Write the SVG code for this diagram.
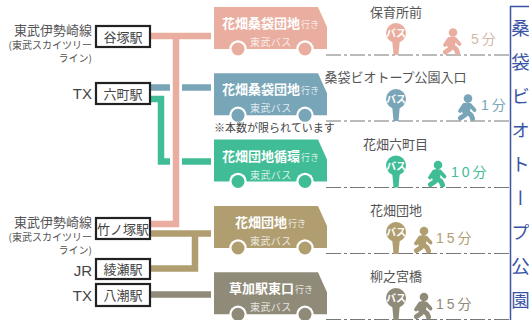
<svg xmlns="http://www.w3.org/2000/svg" width="529" height="320" viewBox="0 0 529 320">
<style>
text{font-family:"Noto Sans CJK JP","Liberation Sans",sans-serif}
.c1{color:#e9aea0}.c2{color:#78a5b8}.c3{color:#40bd96}.c4{color:#b09e70}.c5{color:#8f8b78}
.line{fill:none;stroke-width:6.5}
.lbl{font-size:13px;fill:#555;text-anchor:end}
.lat{font-family:"Liberation Sans",sans-serif;font-size:15px;fill:#444;text-anchor:end}
.sub{font-size:10px;fill:#555;text-anchor:end}
.st{fill:#fff;stroke:#222;stroke-width:2.2}
.stt{font-size:13px;fill:#444;text-anchor:middle}
.bt{font-size:13px;font-weight:700;fill:#fff}
.bg{font-size:9px;fill:#fff;fill-opacity:.8}
.bc{font-size:10px;fill:#fff;fill-opacity:.8;letter-spacing:.4px}
.sn{font-size:13px;fill:#555;text-anchor:middle}
.pb{font-size:10px;font-weight:700;fill:#fff;text-anchor:middle}
.min{font-family:"Liberation Sans","Noto Sans CJK JP",sans-serif;font-size:14px;letter-spacing:3px}
.dd{stroke:#777;stroke-width:1;stroke-dasharray:15 3 3 3;fill:none}
</style>
<defs>
<g id="bus">
<path d="M214 7H318L327 27V49H214Z" fill="currentColor"/>
<circle cx="238" cy="49" r="8.700" fill="#fff"/><circle cx="238" cy="49" r="6.500" fill="currentColor"/>
<circle cx="305" cy="49" r="8.700" fill="#fff"/><circle cx="305" cy="49" r="6.500" fill="currentColor"/>
</g>
<g id="pole" fill="currentColor">
<circle cx="0" cy="0" r="10"/><path d="M-4 5H4L2.500 22H-2.500Z"/>
</g>
<g id="walker" fill="none" stroke="currentColor" stroke-linecap="round" stroke-linejoin="round">
<circle cx="1" cy="4.500" r="4.300" fill="currentColor" stroke="none"/>
<path d="M0 12.500L-1 16.500" stroke-width="8"/>
<path d="M3 11L7.500 16M-3 11L-7 17" stroke-width="3.800"/>
<path d="M-1 18L-2 21L-6.500 24M0 18L4 21L5.500 24.500" stroke-width="5"/>
</g>
</defs>
<g id="connectors">
<path class="line c2" stroke="currentColor" d="M151 87.500H211"/>
<path class="line c3" stroke="currentColor" d="M151 99H161V161.500H211"/>
<path d="M176 40V224" stroke="#fff" stroke-width="12" fill="none"/>
<path class="line c1" stroke="currentColor" d="M151 36H211M176 36V224H151"/>
<path class="line c4" stroke="currentColor" d="M151 233.500H211M195 233.500V268.500H151"/>
<path class="line c5" stroke="currentColor" d="M151 294.500H211"/>
<path class="dd" d="M326 55H509M326 121H509M326 187.500H509M326 253.500H509M326 319.500H509"/>
</g>
<g id="line-labels">
<text class="lbl" x="92" y="35">東武伊勢崎線</text>
<text class="sub" x="92" y="49">(東武スカイツリー</text>
<text class="sub" x="92" y="62">ライン)</text>
<text class="lat" x="92" y="99">TX</text>
<text class="lbl" x="92" y="227">東武伊勢崎線</text>
<text class="sub" x="92" y="241">(東武スカイツリー</text>
<text class="sub" x="92" y="254">ライン)</text>
<text class="lat" x="92" y="275.500">JR</text>
<text class="lat" x="92" y="300.500">TX</text>
</g>
<g id="station-yatsuka"><rect class="st" x="96" y="26" width="54" height="21"/><text class="stt" x="123" y="42">谷塚駅</text></g>
<g id="station-rokucho"><rect class="st" x="96" y="83" width="54" height="21"/><text class="stt" x="123" y="99">六町駅</text></g>
<g id="station-takenotsuka"><rect class="st" x="96" y="218" width="54" height="21"/><text class="stt" x="123" y="234">竹ノ塚駅</text></g>
<g id="station-ayase"><rect class="st" x="96" y="259" width="54" height="20"/><text class="stt" x="123" y="274">綾瀬駅</text></g>
<g id="station-yashio"><rect class="st" x="96" y="284" width="54" height="22"/><text class="stt" x="123" y="300">八潮駅</text></g>

<g id="bus-1"><use href="#bus" class="c1"/><text class="bt" x="222" y="28">花畑桑袋団地</text><text class="bg" x="301" y="28">行き</text><text class="bc" x="250" y="46">東武バス</text></g>
<g id="bus-2"><use href="#bus" class="c2" y="66.300"/><text class="bt" x="222" y="94">花畑桑袋団地</text><text class="bg" x="301" y="94">行き</text><text class="bc" x="250" y="112">東武バス</text></g>
<g id="bus-3"><use href="#bus" class="c3" y="132.500"/><text class="bt" x="222" y="160.500">花畑団地循環</text><text class="bg" x="301" y="160.500">行き</text><text class="bc" x="250" y="178.500">東武バス</text></g>
<g id="bus-4"><use href="#bus" class="c4" y="199"/><text class="bt" x="235" y="227">花畑団地</text><text class="bg" x="288" y="227">行き</text><text class="bc" x="250" y="245">東武バス</text></g>
<g id="bus-5"><use href="#bus" class="c5" y="265.300"/><text class="bt" x="229" y="293">草加駅東口</text><text class="bg" x="295" y="293">行き</text><text class="bc" x="250" y="311">東武バス</text></g>
<text id="note" x="214" y="132" font-size="11" fill="#444">※本数が限られています</text>

<g id="stop-1"><text class="sn" x="396" y="17">保育所前</text><use href="#pole" class="c1" x="396" y="33"/><text class="pb" x="396" y="37">バス</text><use href="#walker" class="c1" x="452" y="28"/><text class="min" x="471" y="44" fill="#d0b9a8">5分</text></g>
<g id="stop-2"><text class="sn" x="395.500" y="82">桑袋ビオトープ公園入口</text><use href="#pole" class="c2" x="396" y="99"/><text class="pb" x="396" y="103">バス</text><use href="#walker" class="c2" x="467" y="94"/><text class="min" x="481" y="110" fill="#78a5b8">1分</text></g>
<g id="stop-3"><text class="sn" x="395.500" y="149">花畑六町目</text><use href="#pole" class="c3" x="396" y="165.500"/><text class="pb" x="396" y="169.500">バス</text><use href="#walker" class="c3" x="437" y="160.500"/><text class="min" x="451" y="177" fill="#40bd96">10分</text></g>
<g id="stop-4"><text class="sn" x="396" y="215">花畑団地</text><use href="#pole" class="c4" x="396" y="232"/><text class="pb" x="396" y="236">バス</text><use href="#walker" class="c4" x="423" y="226.500"/><text class="min" x="436" y="243" fill="#b09e70">15分</text></g>
<g id="stop-5"><text class="sn" x="396" y="281">柳之宮橋</text><use href="#pole" class="c5" x="396" y="298"/><text class="pb" x="396" y="302">バス</text><use href="#walker" class="c5" x="423" y="292.500"/><text class="min" x="436" y="309" fill="#8f8b78">15分</text></g>

<g id="park-panel">
<path d="M530 6.500H510.500V321" fill="none" stroke="#3a55a5" stroke-width="1.500"/>
<text x="520.500" y="19" font-size="18.500" fill="#3a55a5" letter-spacing="15.500" style="writing-mode:vertical-rl">桑袋ビオトープ公園</text>
</g>
</svg>
